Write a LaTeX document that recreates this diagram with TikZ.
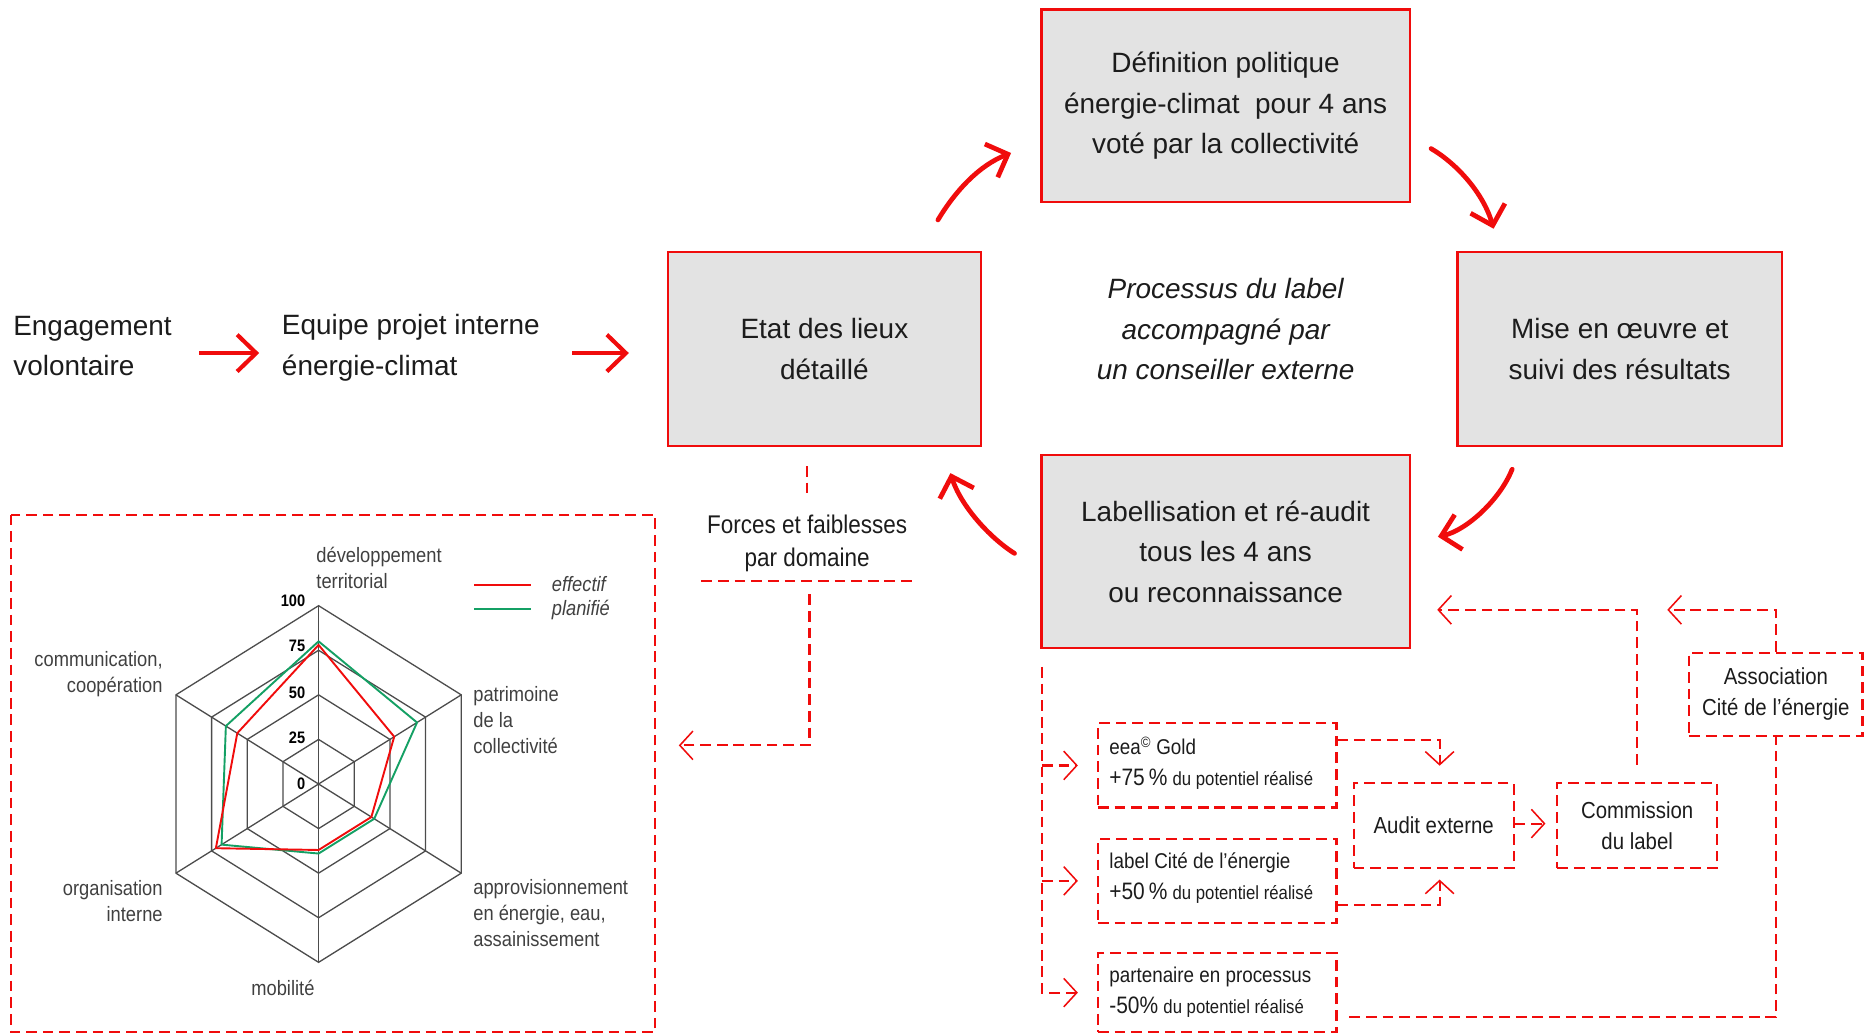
\documentclass[tikz,border=0pt]{standalone}
\usepackage{fontspec}
\setmainfont{Liberation Sans}
\newfontfamily\condf{Liberation Sans}[FakeStretch=0.88]
\usetikzlibrary{arrows.meta,calc}
\definecolor{rd}{RGB}{240,12,12}
\definecolor{gf}{RGB}{227,227,227}
\definecolor{gr}{RGB}{20,160,100}
\definecolor{tx}{RGB}{28,28,28}
\newcommand\mybig{\fontsize{23.5}{34}\selectfont}
\newcommand\smalltxt{\condf\fontsize{17.5}{22}\selectfont}
\newcommand\boxtxt{\condf\fontsize{19.5}{26}\selectfont}
\newcommand\forcestxt{\condf\fontsize{21.5}{28}\selectfont}
\newcommand\numtxt{\condf\bfseries\fontsize{14}{14}\selectfont}
\newcommand\lbltxt{\condf\fontsize{18}{26}\selectfont}
\newcommand\pcttxt{\fontsize{20}{26}\selectfont}
\newcommand\dutxt{\fontsize{16}{26}\selectfont}
\tikzset{
  procbox/.style={draw=rd, fill=gf, line width=2pt, inner sep=0pt, align=center, text=tx, font=\mybig},
  dsh/.style={draw=rd, line width=1.8pt, dash pattern=on 9pt off 5pt},
  dcon/.style={dsh, -{Straight Barb[length=11pt,width=24pt,line width=1.3pt]}},
  dbox/.style={dsh, inner sep=0pt, text=tx},
  lbox/.style={dbox, minimum width=200.6pt},
  ltext/.style={font=\lbltxt, text=tx, inner sep=0pt, align=left, anchor=west},
  curv/.style={draw=rd, line width=4pt, line cap=round, line join=round, -{Straight Barb[length=15pt,width=30pt]}},
  straw/.style={draw=rd, line width=3.5pt, -{Straight Barb[length=16pt,width=31pt]}},
  grid/.style={draw=black!70, line width=1.1pt},
  rlab/.style={font=\smalltxt, text=black!75, inner sep=0pt},
  plaintxt/.style={font=\mybig, text=tx, inner sep=0pt},
  numlab/.style={font=\numtxt, text=black, inner sep=0pt, anchor=east},
}
\begin{document}
\begin{tikzpicture}[x=1pt,y=-1pt]
\useasboundingbox (0,0) rectangle (1568,870);

% main process boxes
\node[procbox,minimum width=310pt,minimum height=162pt] (def) at (1031,89) {Définition politique\\énergie-climat\ \ pour 4 ans\\voté par la collectivité};
\node[procbox,minimum width=263pt,minimum height=163pt] (etat) at (693.5,293.5) {Etat des lieux\\détaillé};
\node[procbox,minimum width=273pt,minimum height=163pt] (mise) at (1362.5,293.5) {Mise en œuvre et\\suivi des résultats};
\node[procbox,minimum width=310pt,minimum height=162pt] (lab) at (1031,464) {Labellisation et ré-audit\\tous les 4 ans\\ou reconnaissance};
\node[plaintxt, font=\mybig\itshape, align=center] (proc) at (1031,277) {Processus du label\\accompagné par\\un conseiller externe};

% left texts
\node[plaintxt, align=left, anchor=west] (eng) at (11,291) {Engagement\\volontaire};
\node[plaintxt, align=left, anchor=west] (equ) at (237,292.5) {Equipe projet interne\\énergie-climat};
\draw[straw] ($(eng.east)+(23,6)$) -- ($(equ.west)+(-19,4.5)$);
\draw[straw] ($(equ.east)+(27,4.5)$) -- ($(etat.west)+(-32,3.5)$);

% curved cycle arrows
\coordinate (a1s) at (789,185);   \coordinate (a1e) at (850.5,128.7);
\coordinate (a2s) at (1203.8,125); \coordinate (a2e) at (1256.4,192.4);
\coordinate (a3s) at (1272,394.7); \coordinate (a3e) at (1209.6,451.5);
\coordinate (a4s) at (853.4,465.5); \coordinate (a4e) at (799.5,398);
\draw[curv] (a1s) .. controls (804,160) and (824,139) .. (a1e);
\draw[curv] (a2s) .. controls (1226,138) and (1248,163) .. (a2e);
\draw[curv] (a3s) .. controls (1262,420) and (1234,446) .. (a3e);
\draw[curv] (a4s) .. controls (832,452) and (808,425) .. (a4e);

% forces et faiblesses
\node[font=\forcestxt, align=center, text=tx, inner sep=0pt] (forces) at (679,457) {Forces et faiblesses\\par domaine};
\draw[dsh] ([xshift=-14.5pt,yshift=-16pt]etat.south) -- ++(0,27);
\coordinate (ul1) at (590,488.5); \coordinate (ul2) at (769,488.5);
\draw[dsh] (ul1) -- (ul2);
\coordinate (fv) at (681,500); \coordinate (ft) at (571,627);
\draw[dcon] (fv) |- (ft);

% radar frame
\coordinate (rb1) at (9,433); \coordinate (rb2) at (551,868);
\draw[dsh] (rb1) rectangle (rb2);

\begin{scope}[shift={(268,659.5)}]
  \foreach \r in {0.25,0.5,0.75,1}{
    \draw[grid] (0,-150*\r) -- (120*\r,-75*\r) -- (120*\r,75*\r) -- (0,150*\r) -- (-120*\r,75*\r) -- (-120*\r,-75*\r) -- cycle;}
  \foreach \a/\b in {0/-150,120/-75,120/75,0/150,-120/75,-120/-75}
    \draw[grid] (0,0) -- (\a,\b);
  \draw[gr, line width=1.6pt, line join=round] (0,-120) -- (82.8,-51.75) -- (46.8,29.25) -- (0,58.5) -- (-81.6,51) -- (-78,-48.75) -- cycle;
  \draw[rd, line width=1.6pt, line join=round] (0,-117) -- (63.6,-39.75) -- (44.4,27.75) -- (0,55.5) -- (-86.4,54) -- (-68.4,-42.75) -- cycle;
\end{scope}
\node[numlab] (n100) at (257,505) {100};
\node[numlab] (n75) at (257,543.5) {75};
\node[numlab] (n50) at (257,582.5) {50};
\node[numlab] (n25) at (257,621) {25};
\node[numlab] (n0) at (257,659.5) {0};

\node[rlab, align=left, anchor=west] (ldev) at (266,478) {développement\\territorial};
\node[rlab, align=left, anchor=west] (lpat) at (398,606) {patrimoine\\de la\\collectivité};
\node[rlab, align=left, anchor=west] (lapp) at (398,768) {approvisionnement\\en énergie, eau,\\assainissement};
\node[rlab] (lmob) at (238,831) {mobilité};
\node[rlab, align=right, anchor=east] (lorg) at (137,758) {organisation\\interne};
\node[rlab, align=right, anchor=east] (lcom) at (137,567) {communication,\\coopération};

% legend
\coordinate (lg1) at (399,492); \coordinate (lg2) at (447,492);
\coordinate (lg3) at (399,512.5); \coordinate (lg4) at (447,512.5);
\draw[rd, line width=1.6pt] (lg1) -- (lg2);
\draw[gr, line width=1.6pt] (lg3) -- (lg4);
\node[rlab, font=\smalltxt\itshape, anchor=west] (leff) at (464,491) {effectif};
\node[rlab, font=\smalltxt\itshape, anchor=west] (lpla) at (464,513) {planifié};

% label boxes
\node[lbox, minimum height=70.8pt] (eea) at (1023.9,643.9) {};
\node[ltext] (eeat) at (933,642) {eea\textsuperscript{©} Gold\\{\pcttxt +75\,\%} {\dutxt du potentiel réalisé}};
\node[lbox, minimum height=71.1pt] (labelc) at (1023.9,741) {};
\node[ltext] (labelct) at (933,739) {label Cité de l’énergie\\{\pcttxt +50\,\%} {\dutxt du potentiel réalisé}};
\node[lbox, minimum height=66pt] (part) at (1023.9,835) {};
\node[ltext] (partt) at (933,835) {partenaire en processus\\{\pcttxt -50\%} {\dutxt du potentiel réalisé}};
\node[dbox, minimum width=134.5pt, minimum height=71pt, font=\boxtxt] (audit) at (1206,694.5) {Audit externe};
\node[dbox, minimum width=134.5pt, minimum height=71pt, font=\boxtxt, align=center] (comm) at (1377.2,694.5) {Commission\\du label};
\node[dbox, minimum width=145.7pt, minimum height=70.2pt, font=\boxtxt, align=center] (assoc) at (1493.9,584.1) {Association\\Cité de l’énergie};

% label connectors
\coordinate (lv) at ([xshift=1.5pt,yshift=-15pt]lab.south west);
\draw[dcon] (lv) |- ([xshift=-16pt]part.west);
\draw[dcon] (lv |- eea.west) -- ([xshift=-16pt]eea.west);
\draw[dcon] (lv |- labelc.west) -- ([xshift=-16pt]labelc.west);
\draw[dcon] ([yshift=21.3pt]eea.east) -| ([xshift=5pt,yshift=14pt]audit.north);
\draw[dcon] ([yshift=-20.6pt]labelc.east) -| ([xshift=5pt,yshift=-9pt]audit.south);
\draw[dcon] ([yshift=1.7pt]audit.east) -- ([xshift=-9pt,yshift=1.7pt]comm.west);
\draw[dcon] ([yshift=15pt]comm.north) |- ([xshift=22pt,yshift=-49pt]lab.east);
\draw[dcon] (assoc.north) |- ([xshift=215.5pt,yshift=-49pt]lab.east);
\draw[dsh] ([xshift=10pt,yshift=-20.7pt]part.east) -| (assoc.south);
\end{tikzpicture}
\end{document}
